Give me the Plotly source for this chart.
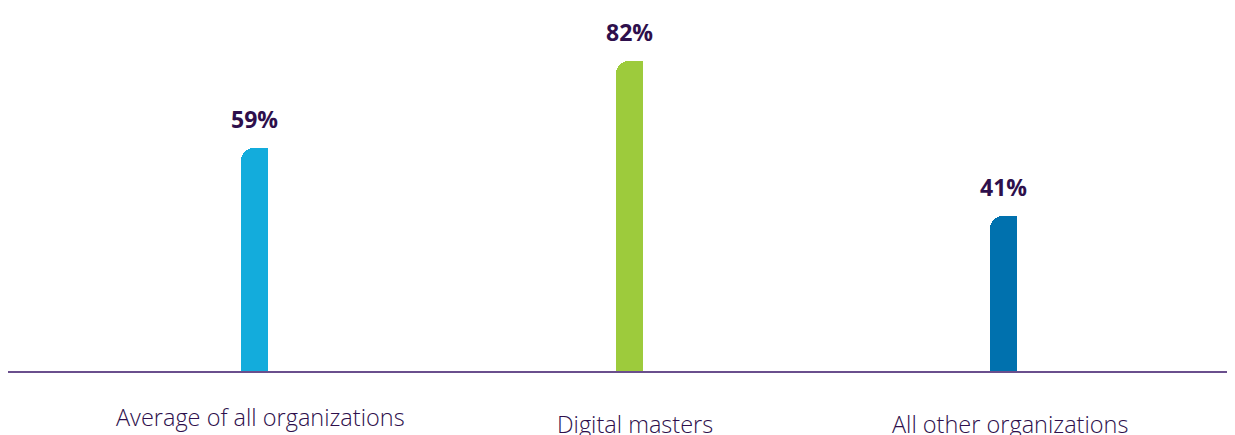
import plotly.graph_objects as go

categories = ["Average of all organizations", "Digital masters", "All other organizations"]
values = [59, 82, 41]
value_labels = ["59%", "82%", "41%"]

bar_colors = ["#13acdc", "#9dcb3c", "#0071ae"]
text_color = "#2e0f4c"
line_color = "#6a4f8d"

BAR_W = 0.072
fig = go.Figure()
# full-width bar with rounded top corners
fig.add_trace(go.Bar(
    x=categories, y=values, width=BAR_W,
    marker=dict(color=bar_colors, cornerradius="50%", line=dict(width=0)),
    hoverinfo="skip", showlegend=False,
))
# right half with a square corner, so only the top-left corner stays rounded
fig.add_trace(go.Bar(
    x=categories, y=values, width=BAR_W / 2, offset=0,
    marker=dict(color=bar_colors, cornerradius=0, line=dict(width=0)),
    hoverinfo="skip", showlegend=False,
))

# value labels above bars
for c, v, t in zip(categories, values, value_labels):
    fig.add_annotation(x=c, y=v, xref="x", yref="y", text=f"<b>{t}</b>",
                       showarrow=False, yshift=29, yanchor="middle",
                       font=dict(family="Open Sans", size=23, color=text_color))

# category labels below the baseline
label_shifts = [-46, -53, -53]
for c, s in zip(categories, label_shifts):
    fig.add_annotation(x=c, y=0, xref="x", yref="y", text=c,
                       showarrow=False, yshift=s, xshift=6, yanchor="middle",
                       font=dict(family="Open Sans", size=23.5, color=text_color, weight=300))

fig.update_layout(
    width=1227, height=427,
    margin=dict(l=0, r=0, t=0, b=64),
    paper_bgcolor="white", plot_bgcolor="white",
    barmode="overlay", bargap=0,
    xaxis=dict(type="category", range=[-0.6595, 2.617], showgrid=False,
               showticklabels=False, ticks="", zeroline=False,
               showline=True, linecolor=line_color, linewidth=2, fixedrange=True),
    yaxis=dict(range=[0, 96], visible=False, fixedrange=True),
)

fig.write_html("out.html")
